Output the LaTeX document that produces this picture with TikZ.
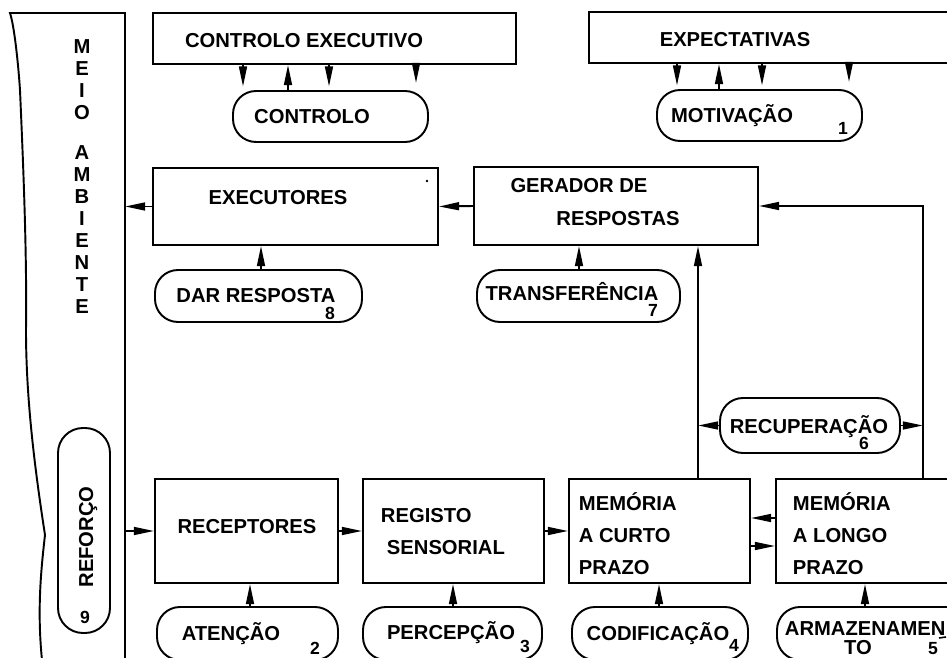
\documentclass[tikz,border=0pt]{standalone}
\usepackage{fontspec}
\setmainfont{Liberation Sans}
\usetikzlibrary{arrows.meta,fit}
\begin{document}
\begin{tikzpicture}[x=0.02cm,y=-0.02cm,
  line width=1.1pt,
  box/.style={draw, rectangle, inner sep=0pt, line width=1.1pt},
  pill/.style={draw, rectangle, rounded corners=0.46cm, inner sep=0pt, line width=1.1pt},
  lbl/.style={font=\fontsize{11.5}{13}\selectfont\bfseries, inner sep=0pt, text height=8.2pt, text depth=0pt},
  num/.style={font=\fontsize{10}{12}\selectfont\bfseries, inner sep=0pt, text height=7.2pt, text depth=0pt},
  arr/.style={-{Triangle[length=11.5pt,width=4.5pt]}, line width=1.1pt}]
\clip (0,0) rectangle (947,658);

% environment wall
\coordinate (wallx) at (125,0);
\draw (125,658) -- (125,13) -- (10,13)
  .. controls (14,25) and (18,60) .. (20,90)
  .. controls (23,160) and (27,250) .. (26,330)
  .. controls (26,400) and (35,470) .. (45,535)
  .. controls (41,570) and (37,610) .. (42,660);
\node[font=\fontsize{11.5}{12.5}\selectfont\bfseries, align=center, inner sep=0pt, anchor=north] (meio) at (82,39)
  {M\\E\\I\\O\\[10pt]A\\M\\B\\I\\E\\N\\T\\E};

% reforco
\node[draw, rectangle, rounded corners=0.5cm, inner sep=0pt, fit={(58,428) (110,633)}] (refpill) {};
\node[lbl, rotate=90] (reforco) at (86,537) {REFORÇO};
\node[num] (n9) at (85,617) {9};

% top boxes
\node[box, fit={(153,13) (516,64)}] (ce) {};
\node[lbl] (cet) at (304,40) {CONTROLO EXECUTIVO};
\node[box, fit={(589,12) (990,63)}] (exp) {};
\node[lbl] (expt) at (735,39) {EXPECTATIVAS};

\node[pill, fit={(233,91) (428,142)}] (ctl) {};
\node[lbl] (ctlt) at (312,116) {CONTROLO};
\node[pill, fit={(657,90) (862,141)}] (mot) {};
\node[lbl] (mott) at (732,115) {MOTIVAÇÃO};
\node[num] (n1) at (843,128) {1};

% arrows CE <-> CONTROLO
\draw[arr, shorten >=2pt] (ce.south -| 243,0) -- (ctl.north -| 243,0);
\draw[arr] (ctl.north -| 288,0) -- (ce.south -| 288,0);
\draw[arr, shorten >=2pt] (ce.south -| 329,0) -- (ctl.north -| 329,0);
\draw[arr, shorten >=4pt] (ce.south -| 416,0) -- (ctl.north -| 416,0);
% arrows EXP <-> MOTIVACAO
\draw[arr, shorten >=2pt] (exp.south -| 677,0) -- (mot.north -| 677,0);
\draw[arr] (mot.north -| 719,0) -- (exp.south -| 719,0);
\draw[arr, shorten >=2pt] (exp.south -| 762,0) -- (mot.north -| 762,0);
\draw[arr, shorten >=4pt] (exp.south -| 849,0) -- (mot.north -| 849,0);

% middle row
\node[box, fit={(153,168) (438,245)}] (exe) {};
\node[lbl] (exet) at (278,197) {EXECUTORES};
\fill (427,181) circle (1.3);
\node[box, fit={(474,167) (758,245)}] (ger) {};
\node[lbl] (ger1) at (579,185) {GERADOR DE};
\node[lbl] (ger2) at (618,218) {RESPOSTAS};

\node[pill, fit={(155,270) (362,322)}] (dar) {};
\node[lbl] (dart) at (256,295) {DAR RESPOSTA};
\node[num] (n8) at (330,313) {8};
\node[pill, fit={(477,270) (680,322)}] (tra) {};
\node[lbl] (trat) at (572,293) {TRANSFERÊNCIA};
\node[num] (n7) at (653,310) {7};

\draw[arr] (exe.west) -- (exe.west -| wallx);
\draw[arr] (ger.west) -- (exe.east);
\draw[arr] (dar.north -| 261,0) -- (exe.south -| 261,0);
\draw[arr] (tra.north -| 579,0) -- (ger.south -| 579,0);

% recuperacao
\node[pill, fit={(720,398) (900,453)}] (rec6) {};
\node[lbl] (rect) at (809,426) {RECUPERAÇÃO};
\node[num] (n6) at (864,443) {6};

% bottom row boxes
\node[box, fit={(155,479) (338,583)}] (rcp) {};
\node[lbl] (rcpt) at (247,526) {RECEPTORES};
\node[box, fit={(363,479) (544,583)}] (reg) {};
\node[lbl, anchor=west] (reg1) at (380,515) {REGISTO};
\node[lbl, anchor=west] (reg2) at (386,547) {SENSORIAL};
\node[box, fit={(569,479) (750,583)}] (mcp) {};
\node[lbl, anchor=west] (mcp1) at (578,503) {MEMÓRIA};
\node[lbl, anchor=west] (mcp2) at (578,535) {A CURTO};
\node[lbl, anchor=west] (mcp3) at (578,567) {PRAZO};
\node[box, fit={(776,479) (990,583)}] (mlp) {};
\node[lbl, anchor=west] (mlp1) at (792,503) {MEMÓRIA};
\node[lbl, anchor=west] (mlp2) at (792,535) {A LONGO};
\node[lbl, anchor=west] (mlp3) at (792,567) {PRAZO};

% bottom pills
\node[pill, fit={(157,607) (338,660)}] (ate) {};
\node[lbl] (atet) at (231,633) {ATENÇÃO};
\node[num] (n2) at (315,648) {2};
\node[pill, fit={(363,607) (542,660)}] (per) {};
\node[lbl] (pert) at (451,632) {PERCEPÇÃO};
\node[num] (n3) at (525,646) {3};
\node[pill, fit={(572,607) (748,660)}] (cod) {};
\node[lbl] (codt) at (658,633) {CODIFICAÇÃO};
\node[num] (n4) at (734,645) {4};
\node[pill, fit={(777,607) (990,660)}] (arm) {};
\node[lbl, anchor=west] (arm1) at (784,628) {ARMAZENAMEN};
\node[lbl] (arm2) at (858,647) {TO};
\node[num] (n5) at (933,648) {5};
\draw[line width=0.9pt] (939,638) -- (946,637);

% bottom arrows
\draw[arr] (rcp.west -| wallx) -- (rcp.west);
\draw[arr] (rcp.east) -- (reg.west);
\draw[arr] (reg.east) -- (mcp.west);
\draw[arr] (mlp.west |- 0,518) -- (mcp.east |- 0,518);
\draw[arr] (mcp.east |- 0,546) -- (mlp.west |- 0,546);
\draw[arr] (ate.north -| 250,0) -- (rcp.south -| 250,0);
\draw[arr] (per.north -| 453,0) -- (reg.south -| 453,0);
\draw[arr] (cod.north -| 659,0) -- (mcp.south -| 659,0);
\draw[arr] (arm.north -| 865,0) -- (mlp.south -| 865,0);

% memory to generator
\coordinate (lineL) at (698,425);
\coordinate (lineR) at (923,423);
\draw[arr] (mcp.north -| lineL) -- (ger.south -| lineL);
\draw[arr] (mlp.north -| lineR) |- (ger.east);
\draw[arr] (rec6.west) -- (rec6.west -| lineL);
\draw[arr] (rec6.east) -- (rec6.east -| lineR);
\end{tikzpicture}
\end{document}
